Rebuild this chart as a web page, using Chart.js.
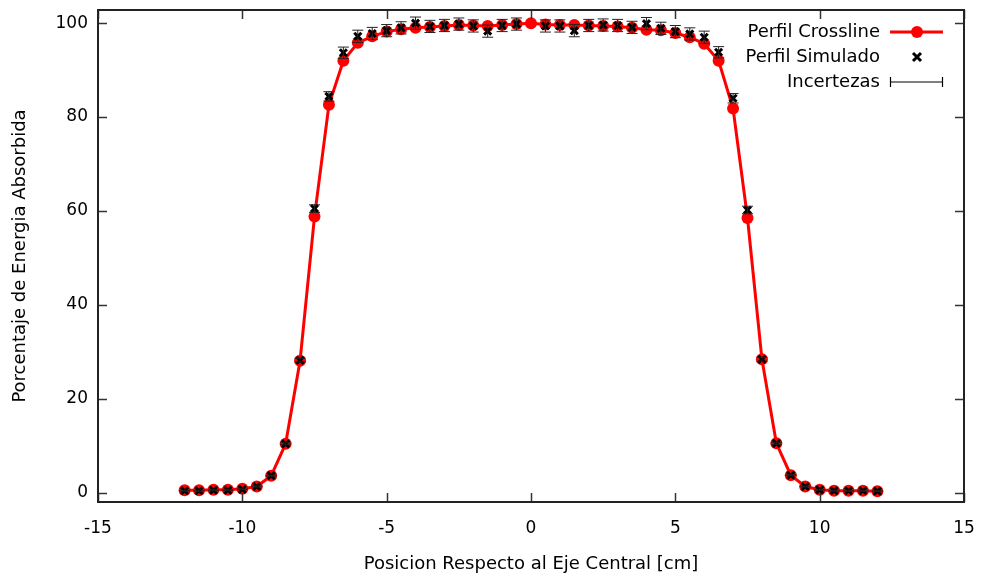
<!DOCTYPE html>
<html><head><meta charset="utf-8">
<script src="https://cdn.jsdelivr.net/npm/chart.js@4"></script>
<style>html,body{margin:0;padding:0;background:#fff;}#wrap{position:relative;width:982px;height:578px;}</style>
</head><body><div id="wrap"><canvas id="c" width="982" height="578"></canvas></div>
<script>
const positions = [-12,-11.5,-11,-10.5,-10,-9.5,-9,-8.5,-8,-7.5,-7,-6.5,-6,-5.5,-5,-4.5,-4,-3.5,-3,-2.5,-2,-1.5,-1,-0.5,0,0.5,1,1.5,2,2.5,3,3.5,4,4.5,5,5.5,6,6.5,7,7.5,8,8.5,9,9.5,10,10.5,11,11.5,12];
const crossline = [0.5,0.5,0.6,0.6,0.8,1.3,3.6,10.4,28.1,58.8,82.6,92.0,95.8,97.2,98.2,98.7,99.0,99.2,99.4,99.6,99.5,99.4,99.6,99.8,100,99.7,99.6,99.6,99.5,99.4,99.3,99.0,98.6,98.5,97.9,97.0,95.6,92.0,81.8,58.5,28.4,10.5,3.7,1.3,0.6,0.4,0.4,0.4,0.3];
const simulated = [0.4,0.4,0.5,0.5,0.7,1.3,3.6,10.4,28.2,60.5,84.4,93.7,97.2,97.8,98.4,99.0,100.0,99.3,99.5,99.8,99.4,98.3,99.5,99.8,null,99.4,99.4,98.4,99.5,99.6,99.5,99.1,99.9,98.9,98.2,97.7,97.0,93.8,84.0,60.2,28.4,10.5,3.7,1.3,0.6,0.4,0.4,0.4,0.3];
const uncertainty = [0.1,0.1,0.1,0.1,0.1,0.1,0.1,0.2,0.4,0.8,1.0,1.2,1.3,1.3,1.3,1.3,1.3,1.3,1.3,1.3,1.3,1.3,1.3,1.3,null,1.3,1.3,1.3,1.3,1.3,1.3,1.3,1.3,1.3,1.3,1.3,1.3,1.2,1.0,0.8,0.4,0.2,0.1,0.1,0.1,0.1,0.1,0.1,0.1];
const xTicks = [-15,-10,-5,0,5,10,15];
const yTicks = [0,20,40,60,80,100];
const seriesNames = ['Perfil Crossline','Perfil Simulado','Incertezas'];
const xTitle = 'Posicion Respecto al Eje Central [cm]';
const yTitle = 'Porcentaje de Energia Absorbida';

const FONT = 'DejaVu Sans';
const RED = '#ff0000';

const errorBars = {
  id: 'errorBars',
  afterDatasetsDraw(chart) {
    const {ctx, scales:{x, y}} = chart;
    ctx.save();
    ctx.strokeStyle = '#222';
    ctx.lineWidth = 1;
    positions.forEach((p, i) => {
      const v = simulated[i], e = uncertainty[i];
      if (v === null || e === null) return;
      const px = x.getPixelForValue(p);
      const y1 = y.getPixelForValue(v - e), y2 = y.getPixelForValue(v + e);
      ctx.beginPath();
      ctx.moveTo(px, y1); ctx.lineTo(px, y2);
      ctx.moveTo(px - 5.5, y1); ctx.lineTo(px + 5.5, y1);
      ctx.moveTo(px - 5.5, y2); ctx.lineTo(px + 5.5, y2);
      ctx.stroke();
    });
    ctx.restore();
  }
};

const frame = {
  id: 'frame',
  afterDraw(chart) {
    const {ctx, chartArea:a, scales:{x, y}} = chart;
    ctx.save();
    ctx.strokeStyle = '#333';
    ctx.lineWidth = 1.5;
    ctx.beginPath();
    xTicks.forEach(t => {
      const px = Math.round(x.getPixelForValue(t)) + 0.5;
      ctx.moveTo(px, a.bottom); ctx.lineTo(px, a.bottom - 9);
      ctx.moveTo(px, a.top); ctx.lineTo(px, a.top + 9);
    });
    yTicks.forEach(t => {
      const py = Math.round(y.getPixelForValue(t)) + 0.5;
      ctx.moveTo(a.left, py); ctx.lineTo(a.left + 9, py);
      ctx.moveTo(a.right, py); ctx.lineTo(a.right - 9, py);
    });
    ctx.stroke();
    ctx.strokeStyle = '#222';
    ctx.lineWidth = 2;
    ctx.strokeRect(a.left, a.top, a.right - a.left, a.bottom - a.top);
    // legend
    ctx.fillStyle = '#000';
    ctx.font = '18px "' + FONT + '"';
    ctx.textAlign = 'right';
    ctx.textBaseline = 'middle';
    const tx = 880, sx1 = 890, sx2 = 943, sc = 917;
    const rows = [32, 57, 82];
    ctx.fillText(seriesNames[0], tx, rows[0]);
    ctx.fillText(seriesNames[1], tx, rows[1]);
    ctx.fillText(seriesNames[2], tx, rows[2]);
    ctx.strokeStyle = RED; ctx.lineWidth = 3;
    ctx.beginPath(); ctx.moveTo(sx1, rows[0]); ctx.lineTo(sx2, rows[0]); ctx.stroke();
    ctx.fillStyle = RED;
    ctx.beginPath(); ctx.arc(sc, rows[0], 6, 0, Math.PI*2); ctx.fill();
    ctx.strokeStyle = '#000'; ctx.lineWidth = 3;
    ctx.beginPath();
    ctx.moveTo(sc-4, rows[1]-4); ctx.lineTo(sc+4, rows[1]+4);
    ctx.moveTo(sc+4, rows[1]-4); ctx.lineTo(sc-4, rows[1]+4);
    ctx.stroke();
    ctx.lineWidth = 1.2;
    ctx.beginPath();
    ctx.moveTo(sx1, rows[2]); ctx.lineTo(sx2, rows[2]);
    ctx.moveTo(sx1+0.5, rows[2]-5); ctx.lineTo(sx1+0.5, rows[2]+5);
    ctx.moveTo(sx2-0.5, rows[2]-5); ctx.lineTo(sx2-0.5, rows[2]+5);
    ctx.stroke();
    ctx.restore();
  }
};

new Chart(document.getElementById('c'), {
  type: 'scatter',
  data: {
    datasets: [
      {
        label: seriesNames[0],
        data: positions.map((p, i) => ({x: p, y: crossline[i]})),
        showLine: true,
        borderColor: RED,
        backgroundColor: RED,
        borderWidth: 3,
        pointRadius: 6,
        pointBorderWidth: 0,
        pointBackgroundColor: RED,
        order: 2
      },
      {
        label: seriesNames[1],
        data: positions.map((p, i) => ({x: p, y: simulated[i]})),
        showLine: false,
        pointStyle: 'crossRot',
        pointRadius: 5,
        pointBorderWidth: 3,
        pointBorderColor: '#000',
        borderColor: '#000',
        order: 1
      }
    ]
  },
  options: {
    responsive: false,
    animation: false,
    events: [],
    layout: { padding: { left: 0, right: 18, top: 10, bottom: 0 } },
    plugins: { legend: { display: false }, tooltip: { enabled: false } },
    scales: {
      x: {
        type: 'linear', min: -15, max: 15,
        afterBuildTicks: s => { s.ticks = xTicks.map(v => ({value: v})); },
        afterFit: s => { s.height = 76; s.paddingLeft = 0; s.paddingRight = 0; },
        grid: { display: false, drawTicks: false },
        border: { display: false },
        ticks: { color: '#000', font: { family: FONT, size: 17 }, padding: 16, maxRotation: 0 },
        title: { display: true, text: xTitle, color: '#000', font: { family: FONT, size: 18 }, padding: { top: 0, bottom: 3 } }
      },
      y: {
        type: 'linear', min: -2, max: 102.8,
        afterBuildTicks: s => { s.ticks = yTicks.map(v => ({value: v})); },
        afterFit: s => { s.width = 98; s.paddingTop = 0; s.paddingBottom = 0; },
        grid: { display: false, drawTicks: false },
        border: { display: false },
        ticks: { color: '#000', font: { family: FONT, size: 17 }, padding: 10 },
        title: { display: true, text: yTitle, color: '#000', font: { family: FONT, size: 18 }, padding: { top: 10, bottom: 0 } }
      }
    }
  },
  plugins: [errorBars, frame]
});
</script></body></html>
